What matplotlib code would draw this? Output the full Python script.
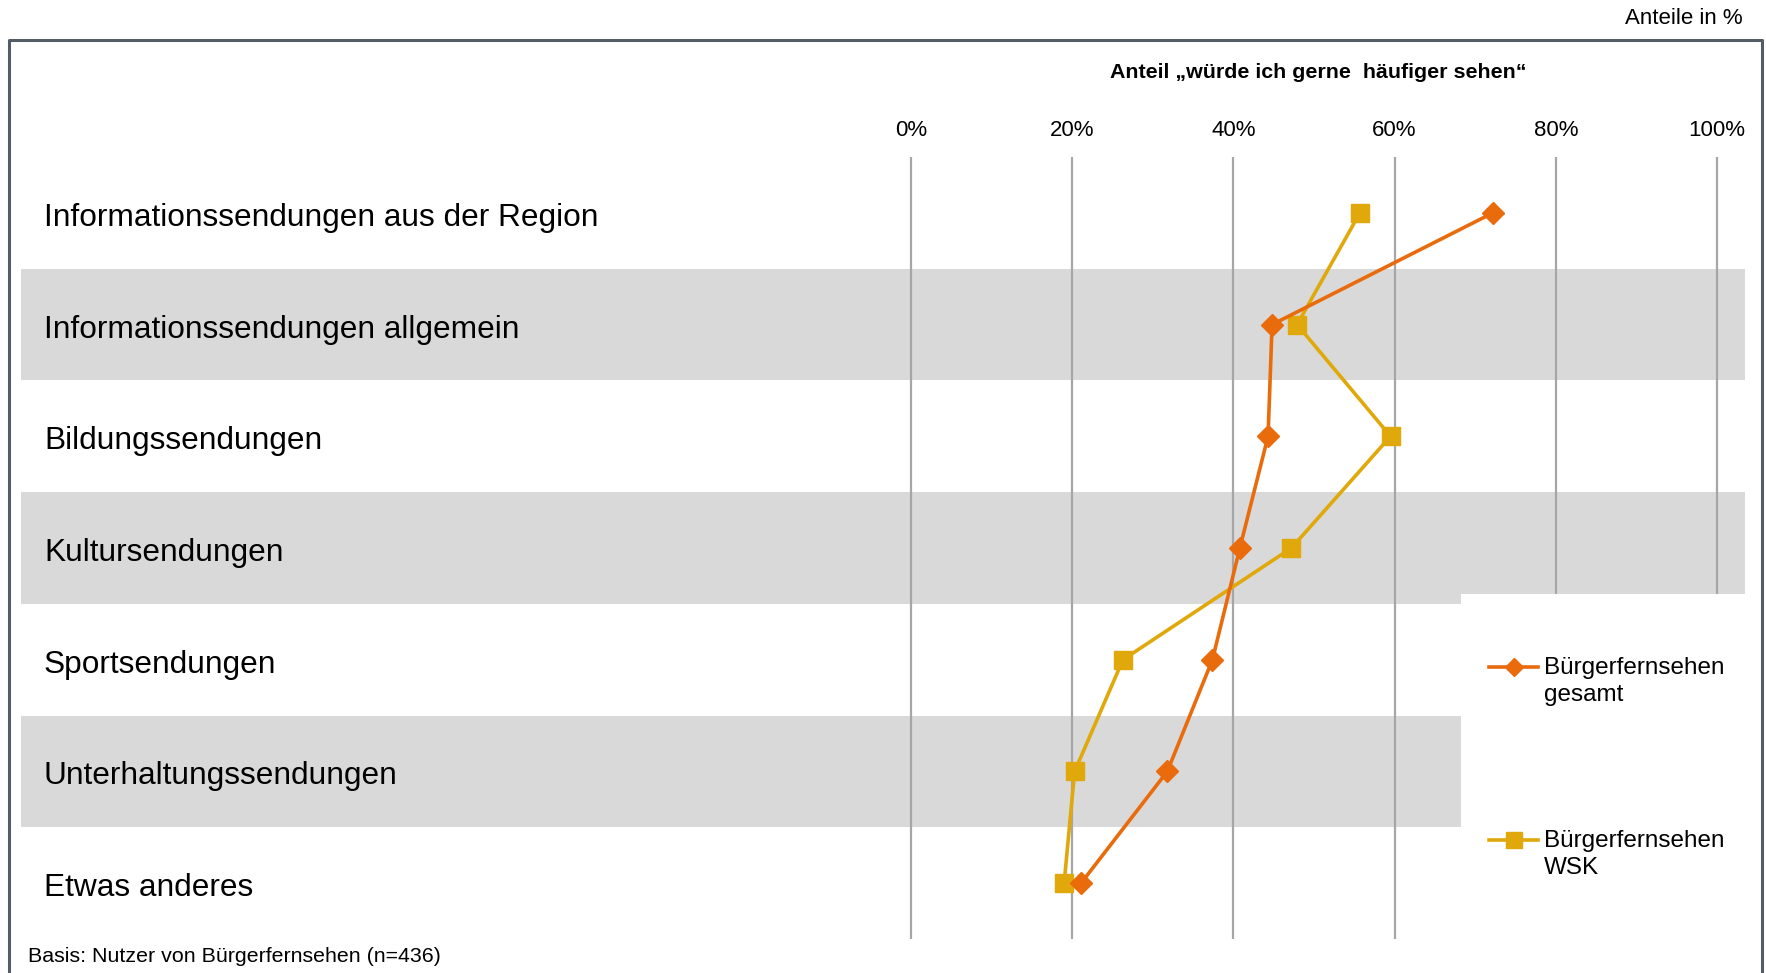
import numpy as np
import matplotlib
matplotlib.use("Agg")
import matplotlib.pyplot as plt
from matplotlib.lines import Line2D
from matplotlib.patches import Rectangle

plt.rcParams["font.family"] = ["Liberation Sans", "DejaVu Sans"]

# DATEN
kategorien = ["Informationssendungen aus der Region",
              "Informationssendungen allgemein",
              "Bildungssendungen",
              "Kultursendungen",
              "Sportsendungen",
              "Unterhaltungssendungen",
              "Etwas anderes"]
gesamt = [72.2, 44.8, 44.3, 40.8, 37.4, 31.8, 21.1]   # Bürgerfernsehen gesamt
wsk = [55.7, 47.9, 59.5, 47.2, 26.3, 20.3, 19.0]      # Bürgerfernsehen WSK
ticks = [0, 20, 40, 60, 80, 100]
tick_labels = ["0%", "20%", "40%", "60%", "80%", "100%"]
serien = ["Bürgerfernsehen\ngesamt", "Bürgerfernsehen\nWSK"]

ORANGE = "#e96b0c"
GELB = "#e0a80a"
GRAU = "#d9d9d9"
RAHMEN = "#545d66"

W, H = 1766, 973
fig = plt.figure(figsize=(W/100, H/100), dpi=100)

# axes: x from 21px to 1745px, y from 157px to 939px
ax = fig.add_axes([21/W, 1-939/H, (1745-21)/W, (939-157)/H])
x0, x100 = 911, 1717   # pixel position of 0% and 100%
px = (x100-x0)/100
ax.set_xlim((21-x0)/px, (1745-x0)/px)
ax.set_ylim(len(kategorien)-0.5, -0.5)
ax.axis("off")

y = np.arange(len(kategorien))

# graue Bänder
for i in y:
    if i % 2 == 1:
        ax.axhspan(i-0.5, i+0.5, color=GRAU, zorder=0, lw=0)

# Gitterlinien
for t in ticks:
    ax.axvline(t, color="#a6a6a6", lw=1.6, zorder=1)
for t, lab in zip(ticks, tick_labels):
    fig.text((x0+t*px)/W, 1-130/H, lab, ha="center", va="center", fontsize=16)

# weißer Legendenbereich
ax.add_patch(Rectangle((68.3, 3.415), 200, 5, facecolor="white",
                       edgecolor="none", zorder=2))

ax.plot(gesamt, y, color=ORANGE, lw=2.6, marker="D", ms=11,
        zorder=4)
ax.plot(wsk, y, color=GELB, lw=2.6, marker="s", ms=13,
        zorder=3)

for i, k in enumerate(kategorien):
    ax.text((44-x0)/px, i+0.045, k, ha="left", va="center", fontsize=22.8)

# Legende (manuell)
for (yy, col, mk, ms, lab) in [(667, ORANGE, "D", 9, serien[0]),
                               (840, GELB, "s", 12, serien[1])]:
    fig.add_artist(Line2D([1489/W, 1538/W], [1-yy/H, 1-yy/H], color=col, lw=2.6))
    fig.add_artist(Line2D([1513.5/W], [1-yy/H], color=col, marker=mk, ms=ms))
    fig.text(1544/W, 1-(yy-10)/H, lab, ha="left", va="top", fontsize=17.5,
             linespacing=1.3)

# Texte
fig.text(1318/W, 1-73/H, "Anteil „würde ich gerne  häufiger sehen“",
         ha="center", va="center", fontsize=15.4, fontweight="bold")
fig.text(1743/W, 1-19/H, "Anteile in %", ha="right", va="center", fontsize=16)
fig.text(28/W, 1-956/H, "Basis: Nutzer von Bürgerfernsehen (n=436)",
         ha="left", va="center", fontsize=15.4)

# Rahmen
fig.add_artist(Line2D([9/W, 9/W, 1762/W, 1762/W], [0, 1-40/H, 1-40/H, 0],
                      color=RAHMEN, lw=2.2))

fig.savefig("out.png", dpi=100)
